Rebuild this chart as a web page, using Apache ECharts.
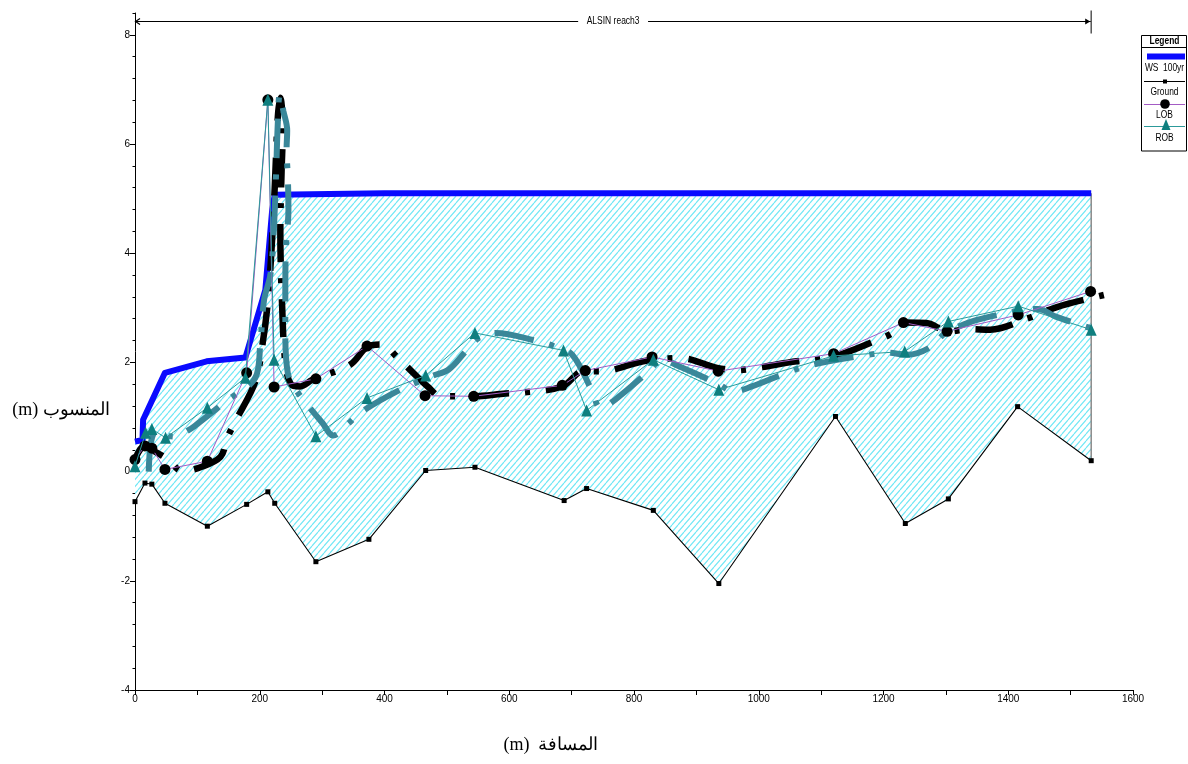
<!DOCTYPE html>
<html><head><meta charset="utf-8">
<script src="https://cdn.jsdelivr.net/npm/echarts@6/dist/echarts.min.js"></script>
<style>html,body{margin:0;padding:0;background:#fff}#c{width:1188px;height:764px}</style>
</head><body><div id="c"></div>
<script>
// ---- tick labels ----
const xTickLabels = [0, 200, 400, 600, 800, 1000, 1200, 1400, 1600];
const yTickLabels = [-4, -2, 0, 2, 4, 6, 8];

// ---- reach annotation ----
const reachLabel = 'ALSIN reach3';
const reachStart = 0;
const reachEnd = 1533;
const reachY = 8.26;

// ---- Ground ----
const groundX = [0, 16, 27, 48, 116, 179, 213, 224, 290, 375, 466, 545, 688, 724, 831, 936, 1123, 1235, 1304, 1415, 1533];
const groundY = [-0.55, -0.21, -0.23, -0.58, -1.00, -0.60, -0.37, -0.58, -1.65, -1.24, 0.02, 0.08, -0.53, -0.31, -0.71, -2.05, 1.01, -0.95, -0.50, 1.19, 0.20];

// ---- WS 100yr ----
const wsX = [0, 12, 13, 48, 115, 177, 209, 220, 224, 400, 1533];
const wsY = [0.55, 0.58, 0.95, 1.81, 2.02, 2.09, 3.33, 4.80, 5.07, 5.10, 5.10];

// ---- LOB ----
const lobX = [0, 16, 27, 48, 116, 179, 213, 223, 290, 372, 465, 543, 685, 722, 829, 935, 1120, 1232, 1302, 1416, 1532];
const lobY = [0.22, 0.47, 0.43, 0.04, 0.19, 1.81, 6.81, 1.55, 1.70, 2.30, 1.39, 1.38, 1.58, 1.85, 2.10, 1.84, 2.16, 2.73, 2.57, 2.87, 3.30];

// ---- ROB ----
const robX = [0, 17, 27, 49, 116, 177, 213, 223, 290, 372, 466, 545, 687, 724, 831, 936, 1120, 1234, 1304, 1416, 1533];
const robY = [0.10, 0.71, 0.78, 0.62, 1.17, 1.72, 6.81, 2.05, 0.65, 1.35, 1.76, 2.54, 2.22, 1.12, 2.05, 1.50, 2.12, 2.20, 2.75, 3.03, 2.60];

// ---- thick smoothed LOB trace (black dash-dot) ----
const lobTrendX = [0, 15, 30, 53, 76, 105, 137, 148, 161, 193, 204, 212, 218, 224, 229, 233, 237, 235, 233, 236, 241, 250, 265, 284, 345, 372, 395, 420, 446, 470, 490, 543, 594, 623, 685, 719, 748, 815, 874, 933, 965, 997, 1061, 1093, 1130, 1186, 1213, 1234, 1269, 1304, 1338, 1371, 1432, 1462, 1491, 1555];
const lobTrendY = [0.22, 0.47, 0.38, 0.22, 0.01, 0.08, 0.27, 0.62, 0.92, 1.65, 2.30, 3.00, 3.90, 5.20, 6.50, 6.85, 6.30, 5.50, 4.40, 3.00, 2.00, 1.60, 1.56, 1.68, 1.96, 2.28, 2.33, 2.10, 1.81, 1.55, 1.38, 1.38, 1.43, 1.45, 1.56, 1.84, 1.84, 2.02, 2.08, 1.90, 1.86, 1.90, 2.02, 2.05, 2.14, 2.39, 2.53, 2.73, 2.72, 2.57, 2.61, 2.60, 2.81, 2.95, 3.06, 3.24];

// ---- thick smoothed ROB trace (teal dash-dot) ----
const robTrendX = [22, 23, 25, 31, 41, 55, 68, 80, 95, 146, 193, 201, 207, 217, 222, 226, 229, 232, 238, 244, 243, 245, 246, 242, 241, 241, 245, 258, 276, 300, 318, 340, 364, 420, 476, 503, 530, 551, 578, 645, 671, 701, 733, 746, 770, 824, 845, 872, 933, 960, 989, 1051, 1080, 1112, 1176, 1206, 1238, 1272, 1302, 1323, 1350, 1414, 1448, 1476, 1540];
const robTrendY = [0.00, 0.25, 0.50, 0.72, 0.76, 0.65, 0.64, 0.72, 0.83, 1.29, 1.72, 2.36, 3.15, 3.60, 4.30, 5.40, 6.40, 6.90, 6.60, 6.25, 5.90, 5.40, 4.80, 4.10, 3.30, 2.60, 1.80, 1.50, 1.23, 0.90, 0.66, 0.86, 1.10, 1.47, 1.75, 1.87, 2.20, 2.45, 2.54, 2.39, 2.30, 2.14, 1.47, 1.17, 1.32, 1.84, 2.05, 1.93, 1.62, 1.47, 1.56, 1.84, 1.94, 2.02, 2.14, 2.18, 2.14, 2.26, 2.57, 2.67, 2.78, 2.94, 2.98, 2.84, 2.60];

const zip = (xs, ys) => xs.map((x, i) => [x, ys[i]]);

function makeHatch() {
  const w = 6, h = 7;
  const c = document.createElement('canvas');
  c.width = w; c.height = h;
  const g = c.getContext('2d');
  g.fillStyle = '#ffffff'; g.fillRect(0, 0, w, h);
  g.strokeStyle = '#6fe7f5'; g.lineWidth = 1.15;
  for (const dx of [-w, 0, w]) { g.beginPath(); g.moveTo(dx, h); g.lineTo(dx + w, 0); g.stroke(); }
  return c;
}
const hatch = makeHatch();

const FN = '"Liberation Sans Narrow", "Liberation Sans", Arial, sans-serif';
const chart = echarts.init(document.getElementById('c'), null, { renderer: 'canvas' });

function lgText(t, y, bold) {
  return { type: 'text', x: 1164.5, y: y, scaleX: 0.8, z: 101,
    style: { text: t, font: (bold ? 'bold ' : '') + '10.5px ' + FN, fill: '#000', align: 'center', verticalAlign: 'middle', textAlign: 'center', textVerticalAlign: 'middle' } };
}

const legendGraphic = [
  { type: 'rect', shape: { x: 1141.5, y: 35.5, width: 45, height: 115.5 }, style: { fill: '#fff', stroke: '#000', lineWidth: 1 }, z: 100 },
  lgText('Legend', 41.5, true),
  { type: 'line', shape: { x1: 1141.5, y1: 47.5, x2: 1186.5, y2: 47.5 }, style: { stroke: '#000', lineWidth: 1 }, z: 101 },
  { type: 'line', shape: { x1: 1147, y1: 56.5, x2: 1185, y2: 56.5 }, style: { stroke: '#0a0aff', lineWidth: 6 }, z: 101 },
  lgText('WS  100yr', 68.5),
  { type: 'line', shape: { x1: 1144, y1: 81.5, x2: 1185, y2: 81.5 }, style: { stroke: '#000', lineWidth: 1 }, z: 101 },
  { type: 'rect', shape: { x: 1163, y: 79.5, width: 4, height: 4 }, style: { fill: '#000' }, z: 102 },
  lgText('Ground', 92.5),
  { type: 'line', shape: { x1: 1144, y1: 104.5, x2: 1185, y2: 104.5 }, style: { stroke: '#a35bc4', lineWidth: 1 }, z: 101 },
  { type: 'circle', shape: { cx: 1165, cy: 104, r: 4.8 }, style: { fill: '#000' }, z: 102 },
  lgText('LOB', 115.5),
  { type: 'line', shape: { x1: 1144, y1: 126.5, x2: 1185, y2: 126.5 }, style: { stroke: '#2c9a9a', lineWidth: 1 }, z: 101 },
  { type: 'polygon', shape: { points: [[1166, 119], [1161.5, 130], [1170.5, 130]] }, style: { fill: '#0f7f7f' }, z: 102 },
  lgText('ROB', 138.5),
  // axis titles
  { type: 'text', x: 61, y: 410, z: 101, style: { text: '(m) المنسوب', font: '18px "Liberation Serif", "DejaVu Serif", serif', fill: '#000', align: 'center', verticalAlign: 'middle', textAlign: 'center', textVerticalAlign: 'middle' } },
  { type: 'text', x: 551, y: 745, z: 101, style: { text: '(m)  المسافة', font: '18px "Liberation Serif", "DejaVu Serif", serif', fill: '#000', align: 'center', verticalAlign: 'middle', textAlign: 'center', textVerticalAlign: 'middle' } }
];

const option = {
  animation: false,
  backgroundColor: '#fff',
  grid: { left: 135, right: 55, top: 13, bottom: 74, containLabel: false },
  xAxis: {
    type: 'value', min: 0, max: 1600, interval: 100,
    axisLine: { show: true, onZero: false, lineStyle: { color: '#000', width: 1 } },
    axisTick: { show: true, length: 5, lineStyle: { color: '#000' } },
    axisLabel: { customValues: xTickLabels, formatter: v => String(v), color: '#000', fontSize: 10, fontFamily: FN, margin: 4 },
    splitLine: { show: false }
  },
  yAxis: [
    {
      type: 'value', min: -4, max: 8.4, interval: 0.4, position: 'left',
      axisLine: { show: true, onZero: false, lineStyle: { color: '#000', width: 1 } },
      axisTick: { show: true, length: 2.5, lineStyle: { color: '#000' } },
      axisLabel: { customValues: yTickLabels, formatter: v => String(v), color: '#000', fontSize: 10, fontFamily: FN, margin: 5 },
      splitLine: { show: false }
    },
    {
      type: 'value', min: -4, max: 8.4, interval: 0.4, position: 'left',
      axisLine: { show: false },
      axisTick: { show: true, length: 5, customValues: yTickLabels, lineStyle: { color: '#000' } },
      axisLabel: { show: false },
      splitLine: { show: false }
    }
  ],
  graphic: legendGraphic,
  series: [
    {
      name: 'fill', type: 'custom', coordinateSystem: 'cartesian2d', data: [[0, 0]], z: 1, silent: true,
      renderItem: function (params, api) {
        const pts = [];
        for (let i = 0; i < wsX.length; i++) pts.push(api.coord([wsX[i], wsY[i]]));
        for (let i = groundX.length - 1; i >= 0; i--) pts.push(api.coord([groundX[i], groundY[i]]));
        return { type: 'polygon', shape: { points: pts }, style: { fill: { image: hatch, repeat: 'repeat' }, stroke: null } };
      }
    },
    {
      name: 'edge', type: 'line', silent: true, z: 2, symbol: 'none',
      data: [[wsX[wsX.length - 1], wsY[wsY.length - 1]], [groundX[groundX.length - 1], groundY[groundY.length - 1]]],
      lineStyle: { color: '#8a8a8a', width: 1.5 }
    },
    {
      name: 'Ground', type: 'line', data: zip(groundX, groundY), z: 3, silent: true,
      symbol: 'rect', symbolSize: 5, itemStyle: { color: '#000' },
      lineStyle: { color: '#000', width: 1.1 }
    },
    {
      name: 'WS  100yr', type: 'line', data: zip(wsX, wsY), z: 4, silent: true, symbol: 'none',
      lineStyle: { color: '#0a0aff', width: 6, join: 'round', cap: 'butt' }
    },
    {
      name: 'LOB trace', type: 'line', data: zip(lobTrendX, lobTrendY), z: 5, silent: true, symbol: 'none', smooth: 0.35,
      lineStyle: { color: '#000', width: 6.5, type: [38, 16, 5, 16], cap: 'butt' }
    },
    {
      name: 'ROB trace', type: 'line', data: zip(robTrendX, robTrendY), z: 6, silent: true, symbol: 'none', smooth: 0.35,
      lineStyle: { color: '#3a8799', width: 6, type: [40, 16, 5, 16], cap: 'butt' }
    },
    {
      name: 'LOB', type: 'line', data: zip(lobX, lobY), z: 7, silent: true,
      symbol: 'circle', symbolSize: 11, itemStyle: { color: '#000' },
      lineStyle: { color: '#a35bc4', width: 1 }
    },
    {
      name: 'ROB', type: 'line', data: zip(robX, robY), z: 8, silent: true,
      symbol: 'triangle', symbolSize: [11, 12], itemStyle: { color: '#0f7f7f' },
      lineStyle: { color: '#2c9a9a', width: 1 }
    },
    {
      name: 'reach', type: 'custom', coordinateSystem: 'cartesian2d', data: [[reachStart, reachEnd, reachY]],
      encode: { x: 0, y: 2 }, z: 20, silent: true, clip: false,
      renderItem: function (params, api) {
        const a = api.coord([api.value(0), api.value(2)]);
        const b = api.coord([api.value(1), api.value(2)]);
        const y = Math.round(a[1]) + 0.5;
        return {
          type: 'group', children: [
            { type: 'line', shape: { x1: a[0], y1: y, x2: b[0], y2: y }, style: { stroke: '#000', lineWidth: 1 } },
            { type: 'polyline', shape: { points: [[a[0] + 5, y - 3], [a[0] + 0.5, y], [a[0] + 5, y + 3]] }, style: { stroke: '#000', fill: null, lineWidth: 1.2 } },
            { type: 'polygon', shape: { points: [[b[0] - 6, y - 3], [b[0] - 1, y], [b[0] - 6, y + 3]] }, style: { fill: '#000' } },
            { type: 'line', shape: { x1: b[0], y1: y - 11, x2: b[0], y2: y + 12 }, style: { stroke: '#555', lineWidth: 1.5 } },
            { type: 'text', x: (a[0] + b[0]) / 2, y: y, scaleX: 0.85, style: { text: reachLabel, font: '10px ' + FN, fill: '#000', align: 'center', verticalAlign: 'middle', textAlign: 'center', textVerticalAlign: 'middle', backgroundColor: '#fff', padding: [2, 10] } }
          ]
        };
      }
    }
  ]
};
chart.setOption(option);
</script>
</body></html>
